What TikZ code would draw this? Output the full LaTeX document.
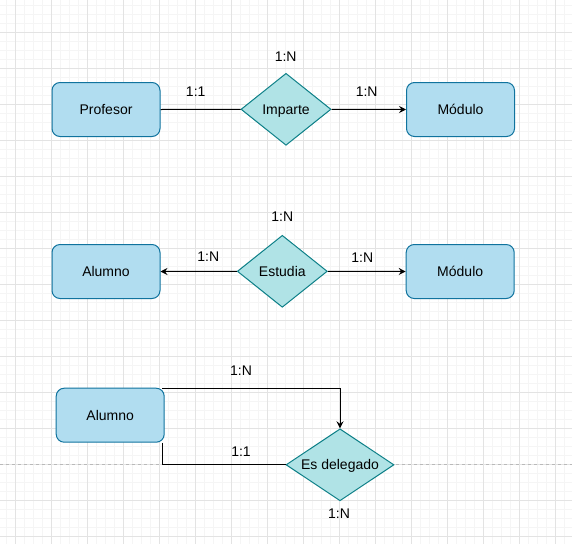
\documentclass[tikz,border=0pt]{standalone}
\usepackage{fontspec}
\setmainfont{Liberation Sans}
\usetikzlibrary{shapes.geometric,arrows.meta,calc}
\definecolor{entfill}{HTML}{B1DDF0}
\definecolor{entline}{HTML}{10739E}
\definecolor{relfill}{HTML}{B0E3E6}
\definecolor{relline}{HTML}{0E8088}
\definecolor{gridmajor}{HTML}{E3E3E3}
\definecolor{gridminor}{HTML}{F5F5F5}
\tikzset{
  entity/.style={draw=entline, fill=entfill, line width=1pt, rounded corners=8pt,
    minimum width=108pt, minimum height=54pt, inner sep=0pt,
    font=\fontsize{14}{16}\selectfont, text height=10pt, text depth=0pt},
  relation/.style={draw=relline, fill=relfill, line width=1pt, diamond, aspect=1.25,
    minimum width=90pt, minimum height=72pt, inner sep=0pt,
    font=\fontsize{14}{16}\selectfont, text height=10pt, text depth=0pt},
  lbl/.style={inner sep=0pt, font=\fontsize{14}{16}\selectfont, text height=10pt, text depth=0pt},
  conn/.style={line width=1pt, draw=black},
  arr/.style={conn, -{Stealth[length=7pt,width=7pt,inset=2.5pt]}},
}
\begin{document}
\begin{tikzpicture}[x=1pt,y=-1pt]
\useasboundingbox (0,0) rectangle (572,544);
\fill[white] (0,0) rectangle (572,544);
% minor grid
\foreach \gx in {6,15,...,570} \draw[gridminor, line width=0.8pt] (\gx,0) -- (\gx,544);
\foreach \gy in {5.3,14.3,...,543} \draw[gridminor, line width=0.8pt] (0,\gy) -- (572,\gy);
% major grid
\foreach \gx in {15,51,...,570} \draw[gridmajor, line width=1pt] (\gx,0) -- (\gx,544);
\foreach \gy in {32.3,68.3,...,543} \draw[gridmajor, line width=1pt] (0,\gy) -- (572,\gy);
% page-break line
\draw[gray!55, line width=1pt, dash pattern=on 3pt off 3pt] (0,464.3) -- (572,464.3);

% row 1
\node[entity] (P) at (106,109.5) {Profesor};
\node[relation] (I) at (286,109.3) {Imparte};
\node[entity] (M1) at (460.5,109.5) {Módulo};
\draw[conn] (P.east) -- (I.west);
\draw[arr] (I.east) -- (M1.west);
\node[lbl] (l1) at (285.7,56) {1:N};
\node[lbl] (l2) at (195.7,91.5) {1:1};
\node[lbl] (l3) at (366.7,91) {1:N};

% row 2
\node[entity] (A2) at (106,271.5) {Alumno};
\node[relation] (Es) at (282.3,271.3) {Estudia};
\node[entity] (M2) at (460.2,271.5) {Módulo};
\draw[arr] (Es.west) -- (A2.east);
\draw[arr] (Es.east) -- (M2.west);
\node[lbl] (l4) at (282.3,216.7) {1:N};
\node[lbl] (l5) at (208.3,256.7) {1:N};
\node[lbl] (l6) at (362.3,257) {1:N};

% row 3
\node[entity] (A3) at (110.2,415.2) {Alumno};
\node[relation, minimum width=108pt, aspect=1.5] (ED) at (340,464.8) {Es delegado};
\coordinate (s1) at ($(A3.north east)+(-2.5,1)$);
\coordinate (s2) at ($(A3.south east)+(-2,0)$);
\draw[arr] (s1) -| (ED.north);
\draw[conn] (s2) |- (ED.west);
\node[lbl] (l7) at (241,370.7) {1:N};
\node[lbl] (l8) at (241,451) {1:1};
\node[lbl] (l9) at (339,513.3) {1:N};
\end{tikzpicture}
\end{document}
